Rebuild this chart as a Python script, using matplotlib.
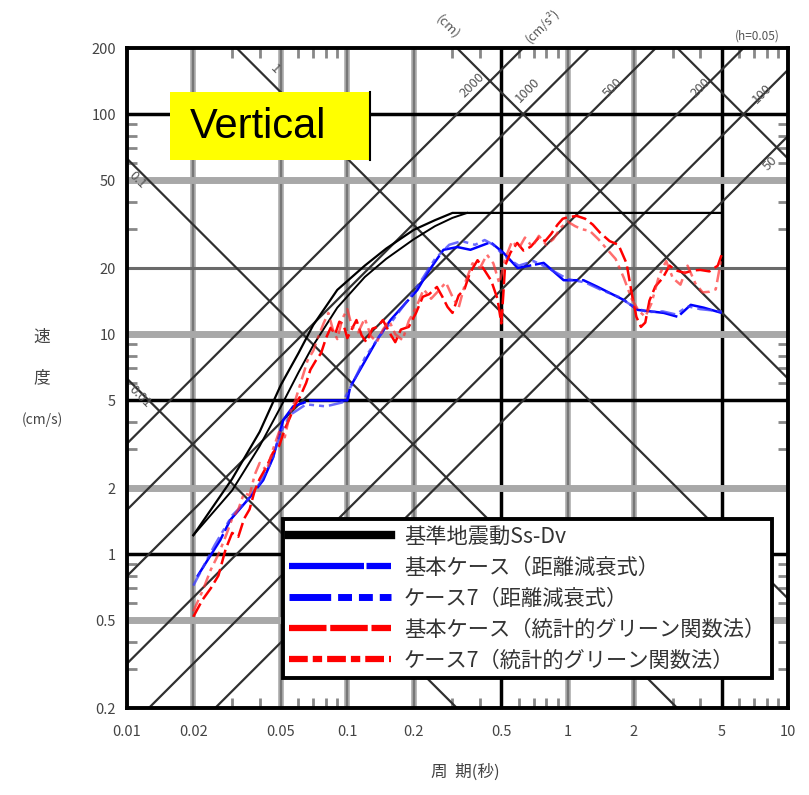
import numpy as np
import matplotlib
matplotlib.use("Agg")
import matplotlib.pyplot as plt
from matplotlib.lines import Line2D
from matplotlib.patches import Rectangle

plt.rcParams['font.family'] = ['Noto Sans CJK JP', 'DejaVu Sans']

# ---- data: period (s) vs pseudo velocity (cm/s), h=0.05 ----
ss_t = [0.02, 0.03, 0.04, 0.05, 0.06, 0.07, 0.09, 0.12, 0.15, 0.2, 0.25, 0.3, 5.0]
ss_v = [1.22, 2.2, 3.6, 5.9, 8.2, 11.0, 15.9, 20.5, 24.5, 29.8, 33.0, 35.6, 35.6]
ss2_t = [0.02, 0.03, 0.04, 0.05, 0.06, 0.07, 0.09, 0.12, 0.15, 0.2, 0.25, 0.3, 0.35]
ss2_v = [1.22, 1.95, 3.1, 4.7, 6.7, 8.9, 13.2, 18.2, 22.0, 27.0, 31.0, 33.8, 35.6]

blue_base_t = [0.0208, 0.0265, 0.0294, 0.0362, 0.0415, 0.0461, 0.0512, 0.0568, 0.0679, 0.0837,
               0.1, 0.103, 0.137, 0.157, 0.208, 0.231, 0.273, 0.316, 0.362, 0.447, 0.512,
               0.593, 0.778, 0.959, 1.18, 1.37, 1.80, 2.08, 2.73, 3.16, 3.62, 4.15, 5.0]
blue_base_v = [0.79, 1.16, 1.43, 1.82, 2.17, 2.76, 4.08, 4.7, 5.0, 5.0,
               5.0, 5.75, 9.5, 11.6, 15.9, 19.0, 24.2, 24.9, 24.2, 26.2, 23.4,
               20.0, 21.1, 17.6, 17.6, 16.4, 14.3, 12.9, 12.5, 12.0, 13.6, 13.2, 12.5]

blue_c7_t = [0.02, 0.025, 0.03, 0.035, 0.04, 0.045, 0.05, 0.055, 0.065, 0.08, 0.095, 0.105,
             0.12, 0.14, 0.16, 0.19, 0.22, 0.25, 0.29, 0.33, 0.38, 0.42, 0.46, 0.52, 0.6,
             0.7, 0.8, 1.0, 1.2, 1.4, 1.7, 2.0, 2.3, 2.7, 3.1, 3.5, 4.0, 5.0]
blue_c7_v = [0.72, 1.1, 1.5, 1.75, 2.1, 2.6, 3.6, 4.3, 4.8, 4.7, 4.9, 5.9,
             7.8, 9.8, 11.5, 14.5, 18.0, 22.0, 25.5, 26.5, 25.5, 26.8, 25.5, 22.5, 20.5,
             21.5, 20.2, 17.8, 17.2, 16.0, 14.8, 13.3, 12.6, 12.7, 12.3, 13.4, 13.0, 12.7]

red_base_t = [0.020, 0.022, 0.024, 0.026, 0.028, 0.030, 0.032, 0.034, 0.036, 0.038, 0.040,
              0.043, 0.046, 0.049, 0.052, 0.055, 0.058, 0.061, 0.065, 0.068, 0.072, 0.076,
              0.080, 0.084, 0.088, 0.092, 0.096, 0.100, 0.104, 0.110, 0.116, 0.122, 0.130,
              0.137, 0.145, 0.155, 0.165, 0.175, 0.190, 0.205, 0.220, 0.235, 0.255, 0.270,
              0.285, 0.300, 0.320, 0.340, 0.360, 0.390, 0.420, 0.450, 0.480, 0.500, 0.510,
              0.520, 0.550, 0.590, 0.630, 0.680, 0.740, 0.790, 0.840, 0.900, 0.950, 1.00,
              1.10, 1.20, 1.30, 1.40, 1.55, 1.70, 1.85, 1.95, 2.05, 2.15, 2.25, 2.35, 2.50,
              2.70, 2.90, 3.10, 3.40, 3.70, 4.00, 4.40, 4.80, 5.00]
red_base_v = [0.52, 0.62, 0.70, 0.80, 1.05, 1.25, 1.2, 1.45, 1.6, 1.95, 2.2,
              2.5, 2.9, 3.1, 3.7, 4.2, 4.8, 5.2, 6.0, 6.9, 7.6, 8.2,
              9.6, 10.7, 10.0, 11.4, 11.1, 9.6, 10.4, 11.6, 9.9, 9.2, 10.6,
              10.8, 11.6, 10.2, 9.2, 10.5, 10.8, 12.5, 14.8, 15.2, 16.4, 14.8,
              13.3, 12.5, 15.0, 16.0, 19.0, 21.7, 19.5, 17.5, 14.5, 11.2, 15.0,
              20.5, 23.5, 26.0, 24.0, 25.0, 27.5, 26.5, 28.5, 31.5, 33.5, 34.0,
              34.5, 33.5, 31.5, 29.0, 26.5, 25.5, 21.0, 15.5, 12.0, 10.8, 11.3, 14.2, 16.5,
              18.0, 20.5, 19.5, 19.0, 19.5, 19.6, 19.3, 20.5, 23.0]

red_c7_t = [0.020, 0.022, 0.024, 0.026, 0.028, 0.030, 0.032, 0.034, 0.036, 0.038, 0.040,
            0.043, 0.046, 0.049, 0.052, 0.055, 0.058, 0.062, 0.066, 0.070, 0.074, 0.078,
            0.082, 0.086, 0.090, 0.095, 0.100, 0.105, 0.112, 0.120, 0.128, 0.136, 0.145,
            0.155, 0.165, 0.178, 0.190, 0.205, 0.222, 0.240, 0.260, 0.280, 0.300, 0.320,
            0.345, 0.370, 0.400, 0.430, 0.460, 0.490, 0.520, 0.560, 0.600, 0.640, 0.690,
            0.740, 0.800, 0.860, 0.930, 1.00, 1.08, 1.16, 1.26, 1.38, 1.50, 1.65, 1.80,
            1.95, 2.10, 2.25, 2.40, 2.60, 2.80, 3.00, 3.25, 3.50, 3.80, 4.10, 4.40, 4.70, 5.00]
red_c7_v = [0.55, 0.68, 0.85, 1.0, 1.2, 1.45, 1.6, 1.9, 1.85, 2.3, 2.6,
            2.4, 3.0, 3.6, 3.4, 4.4, 5.0, 6.2, 7.6, 8.4, 9.8, 11.2,
            12.5, 10.5, 9.5, 11.8, 13.0, 10.8, 10.2, 11.8, 9.8, 9.2, 10.5,
            11.5, 10.0, 9.4, 11.5, 13.2, 16.0, 14.5, 15.8, 17.2, 14.8, 13.2,
            17.5, 21.0, 20.0, 23.0, 21.0, 17.0, 22.0, 26.5, 24.5, 27.5, 25.0,
            28.0, 25.5, 27.0, 30.5, 32.5, 31.0, 30.0, 29.5, 27.0, 24.5, 22.0, 18.0,
            14.5, 12.8, 12.0, 13.8, 18.5, 21.5, 18.0, 16.8, 20.5, 17.0, 15.5, 15.6, 16.0, 22.5]

accel_levels = [50, 100, 200, 500, 1000, 2000]   # cm/s2
disp_levels = [0.01, 0.1, 1, 10, 100]            # cm

x_ticks = [0.01, 0.02, 0.05, 0.1, 0.2, 0.5, 1, 2, 5, 10]
x_labels = ['0.01', '0.02', '0.05', '0.1', '0.2', '0.5', '1', '2', '5', '10']
y_ticks = [0.2, 0.5, 1, 2, 5, 10, 20, 50, 100, 200]
y_labels = ['0.2', '0.5', '1', '2', '5', '10', '20', '50', '100', '200']

legend_labels = ['基準地震動Ss-Dv', '基本ケース（距離減衰式）', 'ケース7（距離減衰式）',
                 '基本ケース（統計的グリーン関数法）', 'ケース7（統計的グリーン関数法）']

W, H = 809, 795
fig = plt.figure(figsize=(W / 100, H / 100), dpi=100)
ax = fig.add_axes([127 / W, 1 - 708 / H, 661 / W, 660 / H])
ax.set_xscale('log')
ax.set_yscale('log')
ax.set_xlim(0.01, 10)
ax.set_ylim(0.2, 200)

# grid lines
grey_x = [0.02, 0.05, 0.1, 0.2, 1, 2]
black_x = [0.5, 5]
for t in grey_x:
    ax.axvline(t, color='#a8a8a8', lw=4, zorder=1)
    ax.axvline(t, color='#777777', lw=1.5, zorder=1)
for t in black_x:
    ax.axvline(t, color='black', lw=2.5, zorder=1)
for v in [50, 10, 2, 0.5]:
    ax.axhline(v, color='#a8a8a8', lw=5, zorder=1)
ax.axhline(20, color='#6a6a6a', lw=2.2, zorder=1)
for v in [100, 5, 1]:
    ax.axhline(v, color='black', lw=2.5, zorder=1)

# tripartite diagonals
tt = np.logspace(-2, 1, 200)
for a in accel_levels:
    ax.plot(tt, a * tt / (2 * np.pi), color='#303030', lw=1.6, zorder=2)
for d in disp_levels:
    ax.plot(tt, 2 * np.pi * d / tt, color='#303030', lw=1.6, zorder=2)

# spectra
ax.plot(ss_t, ss_v, color='black', lw=1.6, zorder=4)
ax.plot(ss2_t, ss2_v, color='black', lw=1.4, zorder=4)
ax.plot(blue_base_t, blue_base_v, color='blue', lw=1.8, dashes=(20, 1.5), zorder=5)
ax.plot(blue_c7_t, blue_c7_v, color='#3a3aff', lw=1.8, dashes=(6, 2, 2, 2, 2, 2), alpha=0.75, zorder=5)
ax.plot(red_base_t, red_base_v, color='red', lw=1.8, dashes=(6, 2), zorder=6)
ax.plot(red_c7_t, red_c7_v, color='#ff3030', lw=1.8, dashes=(5, 2, 1.5, 2), alpha=0.7, zorder=6)

# ticks
ax.set_xticks(x_ticks)
ax.set_xticklabels(x_labels)
ax.set_yticks(y_ticks)
ax.set_yticklabels(y_labels)
ax.tick_params(which='major', length=0, labelsize=10.5, labelcolor='#444444')
ax.tick_params(axis='x', which='major', pad=12)
ax.tick_params(axis='y', which='major', pad=8)
ax.tick_params(which='minor', direction='in', length=7, width=2, color='#888888',
               top=True, right=True, labelbottom=False, labelleft=False)
for s in ax.spines.values():
    s.set_linewidth(2.8)
    s.set_zorder(10)

# line labels
lab = dict(fontsize=9.5, color='#555555', ha='center', va='center')
for a, t, v in [(2000, 0.37, 135), (1000, 0.66, 128), (500, 1.6, 132),
                (200, 4.0, 132), (100, 7.6, 124), (50, 8.3, 60)]:
    ax.text(t, v, str(a), rotation=45, **lab)
for d, t, v in [('0.1', 0.0112, 50), ('0.01', 0.0114, 5.2), ('1', 0.047, 160)]:
    ax.text(t, v, d, rotation=-45, **lab)
fig.text(448 / W, 1 - 27 / H, '(cm)', rotation=-45, fontsize=9.5, color='#555555',
         ha='center', va='center')
fig.text(542 / W, 1 - 26 / H, '(cm/s²)', rotation=45, fontsize=9, color='#555555',
         ha='center', va='center')
fig.text(757 / W, 1 - 36 / H, '(h=0.05)', fontsize=8.5, color='#555555', ha='center', va='center')

# Vertical box
ax.add_patch(Rectangle((0.065, 0.83), 0.303, 0.103, transform=ax.transAxes,
                       facecolor='#ffff00', edgecolor='none', zorder=8))
ax.plot([0.368, 0.368], [0.83, 0.933], transform=ax.transAxes, color='black', lw=1.5, zorder=8)
ax.text(0.095, 0.88, 'Vertical', transform=ax.transAxes, fontsize=30,
        family='Liberation Sans', va='center', ha='left', zorder=9)

# axis labels
fig.text(42 / W, 1 - 337 / H, '速', fontsize=12, color='#444444', ha='center', va='center')
fig.text(42 / W, 1 - 378 / H, '度', fontsize=12, color='#444444', ha='center', va='center')
fig.text(42 / W, 1 - 420 / H, '(cm/s)', fontsize=10, color='#444444', ha='center', va='center')
fig.text(465 / W, 1 - 772 / H, '周  期(秒)', fontsize=12, color='#444444', ha='center', va='center')

# legend
handles = [Line2D([], [], color='black', lw=6),
           Line2D([], [], color='blue', lw=4.5, dashes=(12, 0.4)),
           Line2D([], [], color='blue', lw=5, dashes=(6, 1, 2, 1, 2, 1)),
           Line2D([], [], color='red', lw=4.5, dashes=(6, 0.6)),
           Line2D([], [], color='red', lw=4.5, dashes=(3, 0.8, 1.5, 0.8))]
leg = ax.legend(handles, legend_labels, loc='upper left', bbox_to_anchor=(0.236, 0.286),
                fontsize=15.3, handlelength=4.8, handletextpad=0.6, labelspacing=0.42,
                borderpad=0.3, borderaxespad=0, fancybox=False, framealpha=1,
                edgecolor='black', labelcolor='#333333')
leg.get_frame().set_linewidth(2.8)
leg.set_zorder(12)

fig.savefig('out.png', dpi=100)
